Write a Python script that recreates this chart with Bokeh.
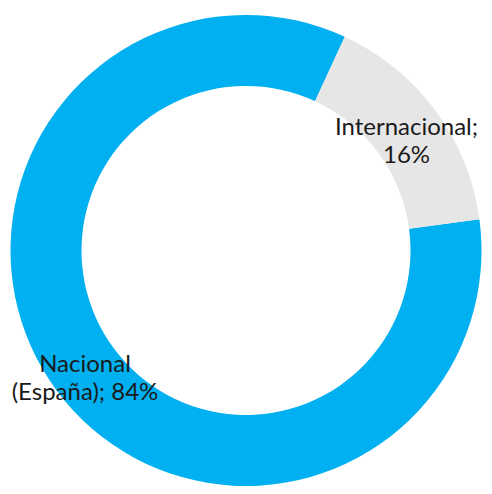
from bokeh.plotting import figure
from bokeh.models import Range1d, ColumnDataSource
from bokeh.embed import file_html
from bokeh.resources import INLINE
from bokeh.core.properties import value
import math

# ---- data ----
categories = ["Nacional (España)", "Internacional"]
shares = [84, 16]
colors = ["#00B0F0", "#E7E6E6"]
label_lines = [["Nacional", "(España); 84%"], ["Internacional;", "16%"]]

# ---- layout (page pixel coordinates) ----
W, H = 492, 494
cx, cy = 245.5, 250.0
R_out, R_in = 235.5, 164.5
first_angle = 82.4  # degrees clockwise from north for first slice

total = sum(shares)
starts, ends = [], []
acc = 0.0
for s in shares:
    a0 = first_angle + 360.0 * acc / total
    acc += s
    a1 = first_angle + 360.0 * acc / total
    starts.append(math.radians(90 - a0))
    ends.append(math.radians(90 - a1))

src = ColumnDataSource(dict(x=[cx] * len(shares), y=[-cy] * len(shares),
                            start=starts, end=ends, color=colors, cat=categories))

p = figure(width=W, height=H, output_backend="svg", toolbar_location=None,
           x_range=Range1d(0, W), y_range=Range1d(-H, 0),
           min_border=0, outline_line_color=None)
p.axis.visible = False
p.grid.visible = False
p.background_fill_color = "white"

p.annular_wedge(x="x", y="y", inner_radius=R_in, outer_radius=R_out,
                start_angle="start", end_angle="end", direction="clock",
                color="color", line_color=None, source=src)

# label positions (pixel)
label_pos = [(84.5, [362, 390]), (406.0, [125, 153])]
for (lx, ys), lines in zip(label_pos, label_lines):
    p.text(x=[lx] * len(lines), y=[-y for y in ys], text=lines,
           text_font=value("Lato"), text_font_size="24px",
           text_color="#1a1a1a", text_align="center", text_baseline="alphabetic")

open("out.html", "w").write(file_html(p, INLINE))
